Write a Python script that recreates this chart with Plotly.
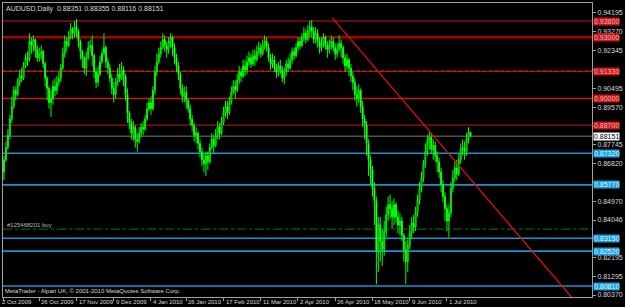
import plotly.graph_objects as go

PIP = 1e-4

# ---- daily AUDUSD candles (values in pips) ----
first_open_pips = 8640
close_pips = [
    8700, 8760, 8820, 8900, 8960, 9040, 9020, 9080, 9110, 9100,
    9160, 9200, 9190, 9280, 9260, 9290, 9240, 9200, 9220, 9230,
    9170, 9100, 9050, 8980, 9000, 9060, 9040, 9080, 9100, 9150,
    9220, 9280, 9260, 9300, 9340, 9320, 9350, 9330, 9280, 9230,
    9200, 9150, 9200, 9250, 9260, 9210, 9130, 9080, 9120, 9180,
    9220, 9250, 9180, 9150, 9100, 9050, 9020, 9080, 9120, 9100,
    9140, 9110, 9020, 8930, 8880, 8830, 8860, 8800, 8790, 8830,
    8860, 8850, 8900, 8950, 8980, 8950, 9040, 9130, 9180, 9220,
    9250, 9290, 9260, 9240, 9280, 9300, 9250, 9200, 9160, 9120,
    9050, 9010, 9030, 8990, 8950, 8900, 8870, 8820, 8830, 8780,
    8740, 8700, 8680, 8720, 8690, 8760, 8800, 8770, 8820, 8860,
    8830, 8880, 8930, 8960, 8930, 8980, 9030, 9060, 9040, 9090,
    9130, 9110, 9160, 9140, 9180, 9200, 9170, 9210, 9190, 9230,
    9250, 9220, 9260, 9280, 9250, 9200, 9170, 9190, 9150, 9130,
    9160, 9140, 9100, 9130, 9170, 9150, 9190, 9230, 9210, 9250,
    9280, 9260, 9300, 9320, 9290, 9330, 9350, 9330, 9290, 9320,
    9280, 9250, 9270, 9300, 9260, 9240, 9260, 9280, 9250, 9220,
    9240, 9270, 9250, 9200, 9160, 9190, 9150, 9110, 9080, 9020,
    9000, 9040, 8960, 8900, 8870, 8780, 8700, 8650, 8560, 8500,
    8250, 8380, 8300, 8260, 8350, 8430, 8480, 8460, 8420, 8480,
    8420, 8380, 8400, 8330, 8260, 8200, 8280, 8340, 8390, 8370,
    8440, 8500, 8560, 8610, 8680, 8740, 8790, 8810, 8750, 8770,
    8720, 8690, 8640, 8580, 8520, 8460, 8400, 8440, 8560, 8610,
    8660, 8630, 8700, 8750, 8760, 8740, 8800, 8835.1, 8815.1,
]
high_pips = [
    8720, 8790, 8850, 8920, 9010, 9060, 9060, 9100, 9140, 9150,
    9180, 9220, 9230, 9320, 9300, 9310, 9290, 9260, 9250, 9260,
    9240, 9180, 9110, 9060, 9040, 9090, 9100, 9110, 9130, 9170,
    9250, 9310, 9300, 9330, 9370, 9350, 9380, 9390, 9340, 9290,
    9240, 9210, 9230, 9280, 9290, 9310, 9220, 9150, 9160, 9210,
    9240, 9320, 9260, 9200, 9170, 9120, 9080, 9100, 9150, 9170,
    9180, 9160, 9120, 9050, 8940, 8900, 8890, 8870, 8830, 8860,
    8880, 8890, 8920, 8980, 9000, 9010, 9060, 9160, 9220, 9250,
    9280, 9320, 9310, 9280, 9300, 9320, 9310, 9270, 9220, 9180,
    9130, 9070, 9060, 9060, 9000, 8970, 8920, 8880, 8860, 8840,
    8800, 8760, 8730, 8740, 8740, 8780, 8830, 8820, 8850, 8890,
    8880, 8910, 8960, 8990, 8990, 9010, 9060, 9090, 9090, 9120,
    9160, 9150, 9190, 9190, 9210, 9230, 9220, 9240, 9240, 9260,
    9280, 9270, 9290, 9310, 9300, 9270, 9220, 9220, 9210, 9170,
    9180, 9190, 9160, 9150, 9190, 9200, 9220, 9250, 9250, 9270,
    9300, 9300, 9320, 9350, 9340, 9360, 9380, 9385, 9350, 9350,
    9340, 9300, 9300, 9320, 9310, 9280, 9290, 9310, 9300, 9270,
    9270, 9310, 9290, 9260, 9220, 9220, 9200, 9170, 9130, 9100,
    9060, 9070, 9050, 8990, 8920, 8890, 8800, 8720, 8670, 8590,
    8520, 8420, 8420, 8360, 8400, 8470, 8520, 8530, 8500, 8510,
    8490, 8450, 8440, 8420, 8340, 8300, 8310, 8380, 8420, 8430,
    8470, 8530, 8590, 8640, 8700, 8780, 8820, 8840, 8830, 8800,
    8790, 8740, 8710, 8660, 8600, 8540, 8480, 8480, 8590, 8650,
    8690, 8700, 8730, 8780, 8800, 8790, 8830, 8860, 8835.5,
]
low_pips = [
    8600, 8690, 8750, 8800, 8880, 8950, 8990, 9010, 9060, 9080,
    9090, 9150, 9160, 9180, 9220, 9230, 9200, 9180, 9180, 9190,
    9150, 9060, 8990, 8950, 8910, 8970, 9010, 9020, 9060, 9080,
    9140, 9200, 9230, 9250, 9290, 9290, 9300, 9300, 9250, 9190,
    9150, 9120, 9110, 9190, 9230, 9160, 9100, 9050, 9060, 9110,
    9170, 9210, 9150, 9120, 9080, 9020, 8980, 9000, 9060, 9080,
    9090, 9060, 8990, 8880, 8850, 8800, 8790, 8760, 8740, 8780,
    8810, 8820, 8840, 8890, 8940, 8920, 8940, 9020, 9110, 9170,
    9200, 9240, 9230, 9200, 9220, 9250, 9210, 9170, 9130, 9090,
    9020, 8980, 8980, 8950, 8930, 8870, 8840, 8790, 8780, 8750,
    8710, 8670, 8640, 8620, 8650, 8680, 8750, 8730, 8760, 8800,
    8800, 8820, 8870, 8910, 8900, 8920, 8970, 9020, 9000, 9030,
    9070, 9080, 9100, 9110, 9120, 9160, 9150, 9160, 9160, 9180,
    9210, 9200, 9210, 9240, 9230, 9180, 9140, 9150, 9130, 9100,
    9110, 9120, 9080, 9070, 9110, 9130, 9140, 9170, 9190, 9200,
    9230, 9240, 9250, 9280, 9270, 9280, 9300, 9300, 9270, 9270,
    9250, 9220, 9230, 9250, 9240, 9200, 9220, 9240, 9230, 9190,
    9200, 9230, 9200, 9170, 9130, 9140, 9110, 9080, 9040, 8990,
    8960, 8980, 8930, 8860, 8800, 8720, 8620, 8580, 8520, 8380,
    8090, 8150, 8200, 8180, 8230, 8320, 8400, 8410, 8360, 8380,
    8390, 8340, 8330, 8300, 8200, 8090, 8150, 8260, 8310, 8340,
    8350, 8420, 8480, 8540, 8590, 8660, 8720, 8750, 8730, 8700,
    8690, 8640, 8610, 8540, 8490, 8400, 8350, 8320, 8420, 8540,
    8590, 8600, 8620, 8680, 8720, 8700, 8720, 8780, 8811.6,
]

# ---- axis / annotation data ----
price_ticks = [0.94195, 0.93270, 0.92345, 0.91420, 0.90495, 0.89570, 0.88645,
               0.87745, 0.86820, 0.85895, 0.84970, 0.84046, 0.83120, 0.82195,
               0.81295, 0.80370]
# tick labels that sit under a coloured price box are not visible in the chart
hidden_tick_labels = [0.91420, 0.88645, 0.85895, 0.83120]
date_labels = ["2 Oct 2009", "26 Oct 2009", "17 Nov 2009", "9 Dec 2009",
               "4 Jan 2010", "26 Jan 2010", "17 Feb 2010", "11 Mar 2010",
               "2 Apr 2010", "26 Apr 2010", "18 May 2010", "9 Jun 2010",
               "1 Jul 2010"]
date_bars = [0, 18, 37, 56, 75, 93, 112, 131, 150, 169, 188, 207, 226]

red_levels = [0.93800, 0.93000, 0.91330, 0.90000, 0.88700]
red_widths = [1, 2.5, 1, 1.5, 1]
red_dotted_levels = [0.91360]
blue_levels = [0.87320, 0.85770, 0.83150, 0.82520, 0.80810]
bid_price = 0.88151
buy_level = 0.83600
trend_bars = [167.5, 289.5]
trend_prices = [0.93951, 0.80272]

title_text = "AUDUSD,Daily  0.88351 0.88355 0.88116 0.88151"
footer_text = "MetaTrader - Alpari UK, \u00a9 2001-2010 MetaQuotes Software Corp."
buy_text = "#125468201 buy"

Y_RANGE = [0.802722, 0.946835]
X_RANGE = [-0.5, 300]

closes = [v * PIP for v in close_pips]
highs = [v * PIP for v in high_pips]
lows = [v * PIP for v in low_pips]
opens = [first_open_pips * PIP] + closes[:-1]
bars = list(range(len(closes)))

FONT = "Liberation Sans"
TXT = "#d8d8d8"
RED = "#c81818"
BLUE = "#1a92d2"

fig = go.Figure()
fig.add_trace(go.Candlestick(
    x=bars, open=opens, high=highs, low=lows, close=closes,
    increasing=dict(line=dict(color="#00ff00", width=1), fillcolor="#000000"),
    decreasing=dict(line=dict(color="#00ff00", width=1), fillcolor="#e8ffe8"),
    whiskerwidth=0, hoverinfo="skip", showlegend=False,
))
fig.add_trace(go.Scatter(
    x=trend_bars, y=trend_prices, mode="lines",
    line=dict(color="#e01010", width=1.3), hoverinfo="skip", showlegend=False,
))

shapes = []
for lvl, w in zip(red_levels, red_widths):
    shapes.append(dict(type="line", xref="paper", x0=0, x1=1, yref="y", y0=lvl, y1=lvl,
                       line=dict(color=RED if w < 2 else "#a80000", width=w), layer="below"))
for lvl in red_dotted_levels:
    shapes.append(dict(type="line", xref="paper", x0=0, x1=1, yref="y", y0=lvl, y1=lvl,
                       line=dict(color=RED, width=1, dash="dot"), layer="below"))
for lvl in blue_levels:
    shapes.append(dict(type="line", xref="paper", x0=0, x1=1, yref="y", y0=lvl, y1=lvl,
                       line=dict(color=BLUE, width=1.6), layer="below"))
shapes.append(dict(type="line", xref="paper", x0=0, x1=1, yref="y", y0=bid_price, y1=bid_price,
                   line=dict(color="#505050", width=1.5), layer="below"))
shapes.append(dict(type="line", xref="paper", x0=0, x1=1, yref="y", y0=buy_level, y1=buy_level,
                   line=dict(color="#007a00", width=1, dash="dashdot"), layer="below"))

ann = []
ann.append(dict(text=title_text, xref="paper", x=0, xanchor="left", xshift=1,
                yref="paper", y=1, yanchor="top", yshift=0, showarrow=False,
                font=dict(family=FONT, size=7, color=TXT)))
ann.append(dict(text=footer_text, xref="paper", x=0, xanchor="left", xshift=0,
                yref="paper", y=0, yanchor="bottom", yshift=1, showarrow=False,
                font=dict(family=FONT, size=6, color=TXT)))
ann.append(dict(text=buy_text, xref="paper", x=0, xanchor="left", xshift=2,
                yref="y", y=buy_level, yanchor="bottom", yshift=-1, showarrow=False,
                font=dict(family=FONT, size=6, color="#b8b8b8")))
for i, (b, lab) in enumerate(zip(date_bars, date_labels)):
    ann.append(dict(text=lab, xref="x", x=b, xanchor="left", xshift=(-4 if i == 0 else 0),
                    yref="paper", y=0, yanchor="top", yshift=0, showarrow=False,
                    font=dict(family=FONT, size=6, color=TXT)))

def price_box(level, bg, fg):
    return dict(text=f"{level:.5f}", xref="paper", x=1, xanchor="left", xshift=1,
                yref="y", y=level, yanchor="middle", showarrow=False,
                bgcolor=bg, borderpad=0, font=dict(family=FONT, size=7, color=fg))

for lvl in red_levels:
    ann.append(price_box(lvl, "#c81818", "#f4b0b0"))
for lvl in blue_levels:
    ann.append(price_box(lvl, "#18a0e0", "#e0f6ff"))
ann.append(price_box(bid_price, "#ffffff", "#000000"))

tick_text = ["" if t in hidden_tick_labels else f"{t:.5f}" for t in price_ticks]

fig.update_layout(
    width=625, height=307,
    margin=dict(l=2, r=22, t=2, b=10),
    paper_bgcolor="#000000", plot_bgcolor="#000000",
    shapes=shapes, annotations=ann,
    xaxis=dict(range=X_RANGE, showgrid=False, zeroline=False, showticklabels=False,
               rangeslider=dict(visible=False), showline=True, mirror=True,
               linecolor="#a0a0a0", linewidth=1,
               tickmode="array", tickvals=date_bars, ticks="outside", ticklen=3,
               tickcolor="#a0a0a0"),
    yaxis=dict(range=Y_RANGE, side="right", showgrid=False, zeroline=False,
               showline=True, mirror=True, linecolor="#a0a0a0", linewidth=1,
               tickmode="array", tickvals=price_ticks, ticktext=tick_text,
               ticks="outside", ticklen=3, tickcolor="#a0a0a0",
               tickfont=dict(family=FONT, size=7, color=TXT)),
    showlegend=False,
)

fig.write_html("out.html")
